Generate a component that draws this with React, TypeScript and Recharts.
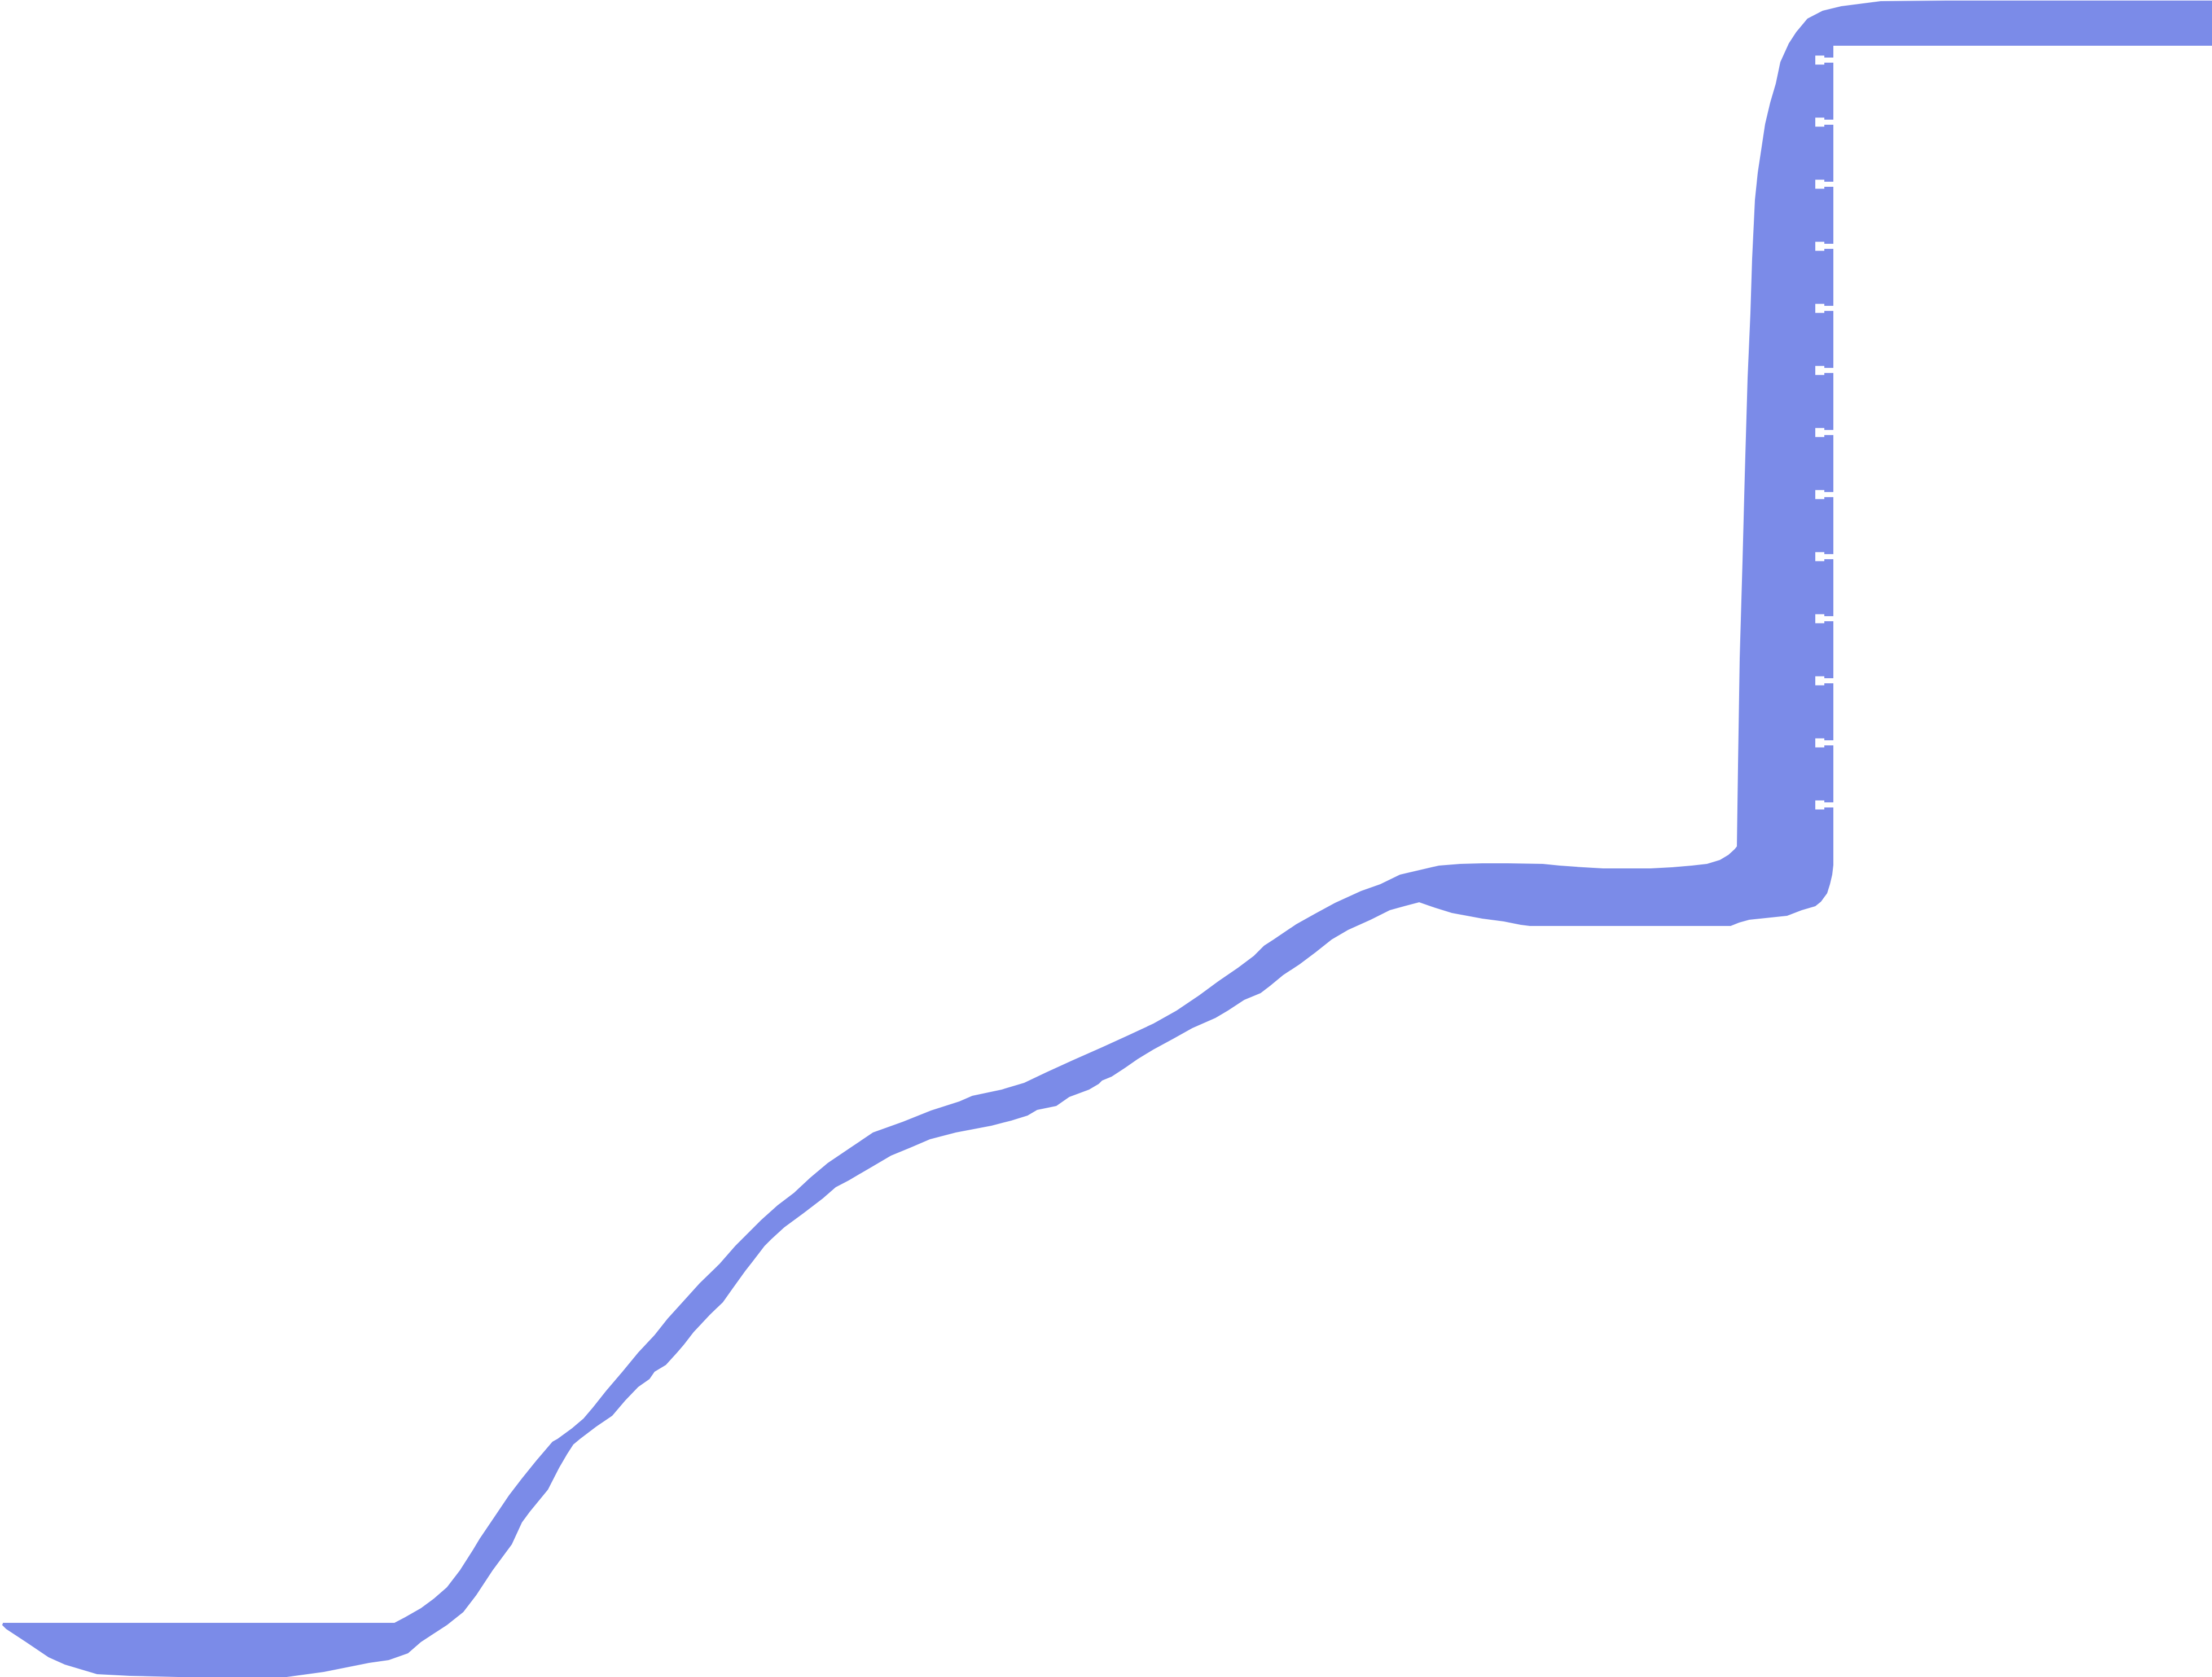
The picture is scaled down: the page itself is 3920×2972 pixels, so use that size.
import React from 'react'
import { ComposedChart, Area, Scatter, XAxis, YAxis } from 'recharts'

// band colour
const BAND = '#7b8be8'

// upper edge of the band (x, y)
const UPPER_X = [
  0, 69.9, 71.8, 74.6, 76.9, 79.2, 81.5, 83.8, 85.0, 87.3, 90.2, 92.5, 95.0, 97.9, 98.8,
  101.4, 103.4, 105.1, 107.4, 110.3, 113.1, 116.0, 118.3, 121.2, 124.0, 127.5, 130.3, 133.2,
  134.9, 137.8, 140.7, 143.6, 146.7, 150.4, 154.7, 160.0, 165.0, 170.0, 172.3, 177.5, 181.5,
  185.5, 190.1, 195.3, 199.9, 204.4, 208.5, 212.5, 215.9, 219.4, 222.2, 224.0, 225.7, 229.7,
  233.1, 236.6, 241.2, 244.6, 248.1, 255.0, 258.8, 262.7, 267.2, 273.4, 276.4, 280.6, 284.1,
  292.5, 296.3, 299.8, 302.5, 304.8, 306.3, 307.4, 307.8, 308.0, 308.3, 308.8, 309.2, 309.7,
  310.2, 310.5, 311.0, 311.5, 312.0, 312.8, 313.7, 314.7, 315.5, 317.0, 318.3, 320.3, 323.0,
  326.3, 333.3, 345.0, 392.0,
]
const UPPER_Y = [
  9.6, 9.6, 10.6, 12.2, 13.9, 15.9, 18.9, 22.5, 24.5, 27.9, 32.2, 35.2, 38.3, 41.7, 42.2,
  44.1, 45.8, 47.8, 50.7, 54.1, 57.5, 60.6, 63.5, 66.7, 69.8, 73.2, 76.4, 79.3,
  81.0, 83.6, 85.8, 88.5, 91.1, 93.6, 96.5, 98.4, 100.4, 102.0, 103.0, 104.1, 105.3,
  107.2, 109.3, 111.6, 113.7, 115.8, 118.1, 120.8, 123.3, 125.7, 127.8, 129.6, 130.7, 133.4,
  135.3, 137.2, 139.3, 140.5, 142.2, 143.8, 144.1, 144.2, 144.2, 144.1, 143.8, 143.5, 143.3,
  143.3, 143.5, 143.8, 144.1, 144.8, 145.7, 146.7, 147.2, 161.4, 180.5, 197.7, 213.0, 230.2,
  241.7, 251.3, 261.8, 266.6, 269.9, 275.2, 279.0, 282.4, 286.2, 289.5, 291.5, 293.9, 295.3,
  296.1, 297.0, 297.1, 297.1,
]

// lower edge of the band (x, y)
const LOWER_X = [
  0, 1.1, 4.6, 8.6, 11.5, 17.2, 23.0, 31.6, 50.8, 57.4, 65.4, 68.9, 72.3, 74.6, 79.2, 82.1,
  84.4, 87.3, 89.0, 90.7, 92.5, 93.9, 97.1, 99.1, 100.5, 101.6, 102.8, 105.7, 108.5, 110.8,
  113.1, 115.1, 116.0, 118.0, 120.0, 121.2, 122.9, 125.8, 128.1, 129.8, 132.1, 133.2, 135.5,
  136.7, 139.0, 142.4, 145.8, 148.1, 150.4, 154.5, 157.9, 161.3, 164.8, 169.4, 175.7, 179.2,
  182.1, 183.8, 187.2, 189.5, 193.0, 194.7, 195.3, 197.0, 199.3, 201.6, 204.4, 207.9, 211.3,
  215.4, 217.6, 220.5, 223.4, 225.1, 227.4, 230.3, 233.1, 236.0, 238.9, 242.9, 246.3, 249.2,
  251.5, 253.8, 257.3, 260.0, 262.7, 266.5, 269.5, 271.1, 306.7, 308.2, 310.0, 316.7, 319.3,
  321.7, 322.7, 323.8, 324.3, 324.7, 324.9, 324.9, 392.0,
]
const LOWER_Y = [
  9.6, 8.5, 6.2, 3.5, 2.2, 0.5, 0.2, 0, 0, 0.9, 2.5, 3.0, 4.2, 6.2, 9.2, 11.5,
  14.5, 18.9, 21.2, 23.5, 27.4, 29.3, 33.2, 37.1, 39.5, 41.2, 42.2, 44.4, 46.3, 49.0,
  51.4, 52.8, 54.1, 55.3, 57.5, 58.9, 61.1, 64.2, 66.4, 68.8, 72.0, 73.4, 76.4,
  77.6, 79.7, 82.2, 84.8, 86.8, 88.0, 90.4, 92.4, 93.8, 95.3, 96.5, 97.7, 98.6,
  99.5, 100.5, 101.2, 102.8, 104.1, 105.1, 105.7, 106.4, 107.9, 109.5, 111.2, 113.1, 115.0,
  116.8, 118.1, 120.0, 121.2, 122.5, 124.4, 126.3, 128.4, 130.7, 132.4, 134.2, 135.9, 136.7,
  137.3, 136.5, 135.4, 134.9, 134.4, 133.9, 133.3, 133.1, 133.1, 133.7, 134.2, 134.9, 135.9,
  136.6, 137.4, 138.9, 140.5, 142.2, 143.9, 289.1, 289.1,
]

// small white marks along the right edge of the vertical part
const NOTCH_X = 324.9
const NOTCH_LEVELS = [
  286.55, 275.55, 264.55, 253.55, 242.55, 231.55, 220.55, 209.55, 198.55, 187.55, 176.55,
  165.55, 154.55,
]

const upperData = UPPER_X.map((x, i) => ({ x, y: UPPER_Y[i] }))
const lowerData = LOWER_X.map((x, i) => ({ x, y: LOWER_Y[i] }))
const notchData = NOTCH_LEVELS.map((y) => ({ x: NOTCH_X, y }))

const Notch = (props: any) => {
  const { cx, cy } = props
  return (
    <g>
      <rect x={cx - 32} y={cy - 8} width={16} height={16} fill="#fff" />
      <rect x={cx - 17} y={cy - 4.5} width={17} height={9} fill="#fff" />
    </g>
  )
}

export default function App() {
  return (
    <div style={{ position: 'absolute', left: 0, top: 0, width: 3920, height: 2972, background: '#fff' }}>
      <ComposedChart width={3920} height={2972} margin={{ top: 0, right: 0, bottom: 0, left: 0 }}>
        <XAxis type="number" dataKey="x" domain={[0, 392]} allowDataOverflow hide />
        <YAxis type="number" dataKey="y" domain={[0, 297.2]} allowDataOverflow hide />
        <Area
          data={upperData}
          dataKey="y"
          type="linear"
          stroke="none"
          fill={BAND}
          fillOpacity={1}
          isAnimationActive={false}
        />
        <Area
          data={lowerData}
          dataKey="y"
          type="linear"
          stroke="none"
          fill="#fff"
          fillOpacity={1}
          isAnimationActive={false}
        />
        <Scatter data={notchData} dataKey="y" shape={Notch} isAnimationActive={false} />
      </ComposedChart>
    </div>
  )
}
